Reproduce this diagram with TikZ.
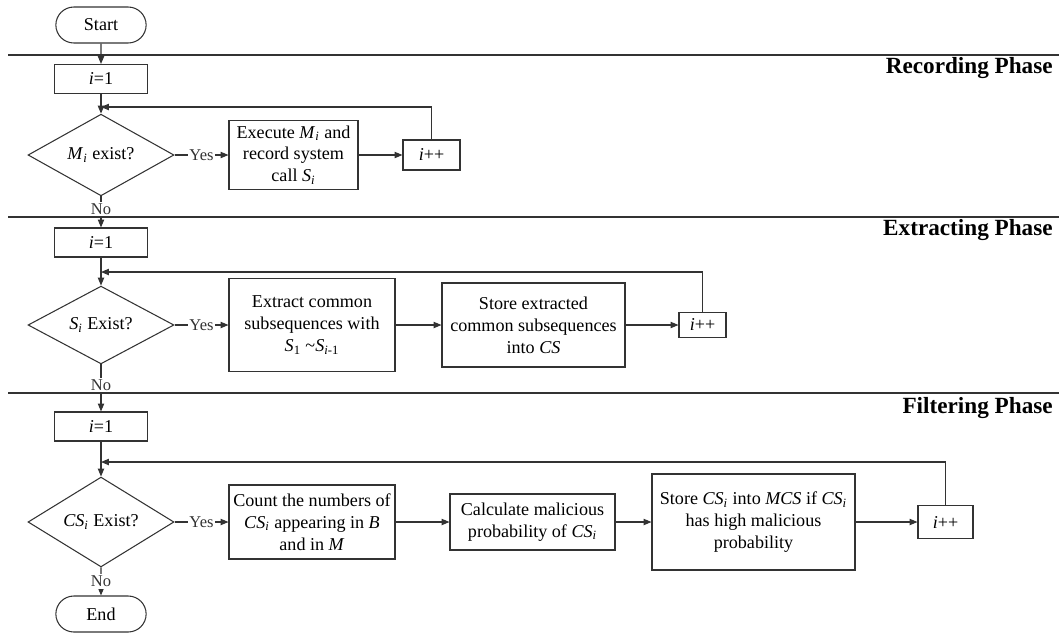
\documentclass[tikz,border=0pt]{standalone}
\usepackage{fontspec}
\setmainfont{Liberation Serif}
\usetikzlibrary{arrows.meta,shapes.geometric,shapes.misc}
\colorlet{ln}{black!80}
\newcommand{\mv}[2]{\textit{#1}\textsubscript{\textit{#2}}}

\begin{document}
\begin{tikzpicture}[x=0.02cm,y=-0.02cm,
  every node/.style={font=\fontsize{10.3}{12.5}\selectfont},
  box/.style={draw=ln,line width=0.6pt,rectangle,align=center,inner sep=1pt},
  init/.style={box,minimum width=1.86cm,minimum height=0.58cm},
  decision/.style={draw=ln,line width=0.6pt,diamond,minimum width=2.92cm,minimum height=1.48cm,inner sep=0pt},
  terminal/.style={draw=ln,line width=0.6pt,rounded rectangle,minimum width=2.04cm,minimum height=0.72cm},
  phase/.style={anchor=base east,inner sep=0pt,font=\fontsize{13.2}{15}\selectfont\bfseries},
  lbl/.style={fill=white,inner sep=1pt,font=\fontsize{9.4}{10}\selectfont},
  arr/.style={ln,line width=0.6pt,-{Triangle[length=4.5pt,width=3.6pt]}}]
\useasboundingbox (0,0) rectangle (1059,633);

% Recording phase
\node[terminal] (start) at (101,25) {Start};
\node[init] (ia) at (101,79) {\textit{i}=1};
\node[decision] (da) at (101,155) {\mv{M}{i} exist?};
\node[box,minimum width=2.58cm,minimum height=1.38cm] (ea) at (293.5,155) {Execute \mv{M}{i} and\\record system\\call \mv{S}{i}};
\node[box,minimum width=1.14cm,minimum height=0.6cm] (pa) at (431.5,155) {\textit{i}++};
\coordinate (la) at (101,107);
\node[phase] (rp) at (1053,73) {Recording Phase};

% Extracting phase
\node[init] (ib) at (101,242.5) {\textit{i}=1};
\node[decision,minimum height=1.24cm] (db) at (101,325) {\mv{S}{i} Exist?};
\node[box,minimum width=3.32cm,minimum height=1.86cm] (xb) at (312,325) {Extract common\\subsequences with\\\textit{S}\textsubscript{1} \textasciitilde\textit{S}\textsubscript{\textit{i}-1}};
\node[box,minimum width=3.66cm,minimum height=1.68cm] (sb) at (533.5,325) {Store extracted\\common subsequences\\into \textit{CS}};
\node[box,minimum width=0.94cm,minimum height=0.5cm] (pb) at (702.5,325) {\textit{i}++};
\coordinate (lb) at (101,272);
\node[phase] (ep) at (1053,235) {Extracting Phase};

% Filtering phase
\node[init] (ic) at (101,426.5) {\textit{i}=1};
\node[decision] (dc) at (101,522) {\mv{CS}{i} Exist?};
\node[box,minimum width=3.32cm,minimum height=1.48cm] (cc) at (312,522) {Count the numbers of\\\mv{CS}{i} appearing in \textit{B}\\and in \textit{M}};
\node[box,minimum width=3.3cm,minimum height=1.12cm] (kc) at (532.5,522) {Calculate malicious\\probability of \mv{CS}{i}};
\node[box,minimum width=4.06cm,minimum height=1.92cm] (mc) at (753.5,522) {Store \mv{CS}{i} into \textit{MCS} if \mv{CS}{i}\\has high malicious\\probability};
\node[box,minimum width=1.1cm,minimum height=0.66cm] (pc) at (945.5,522) {\textit{i}++};
\coordinate (lc) at (101,462);
\node[terminal] (end) at (101,614) {End};
\node[phase] (fp) at (1053,413) {Filtering Phase};

% Connectors
\draw[arr] (start) -- (ia);
\draw[arr] (ia) -- (da);
\draw[arr] (da) -- node[lbl] {Yes} (ea);
\draw[arr] (ea) -- (pa);
\draw[arr] (pa.north) |- (la);
\draw[arr] (da) -- node[lbl,pos=0.42] {No} (ib);

\draw[arr] (ib) -- (db);
\draw[arr] (db) -- node[lbl] {Yes} (xb);
\draw[arr] (xb) -- (sb);
\draw[arr] (sb) -- (pb);
\draw[arr] (pb.north) |- (lb);
\draw[arr] (db) -- node[lbl,pos=0.44] {No} (ic);

\draw[arr] (ic) -- (dc);
\draw[arr] (dc) -- node[lbl] {Yes} (cc);
\draw[arr] (cc) -- (kc);
\draw[arr] (kc) -- (mc);
\draw[arr] (mc) -- (pc);
\draw[arr] (pc.north) |- (lc);
\draw[arr] (dc) -- node[lbl] {No} (end);

% Phase borders
\foreach \y in {55,217,393}
  \draw[ln,line width=0.6pt] (8,\y) -- (1059,\y);
\end{tikzpicture}
\end{document}
